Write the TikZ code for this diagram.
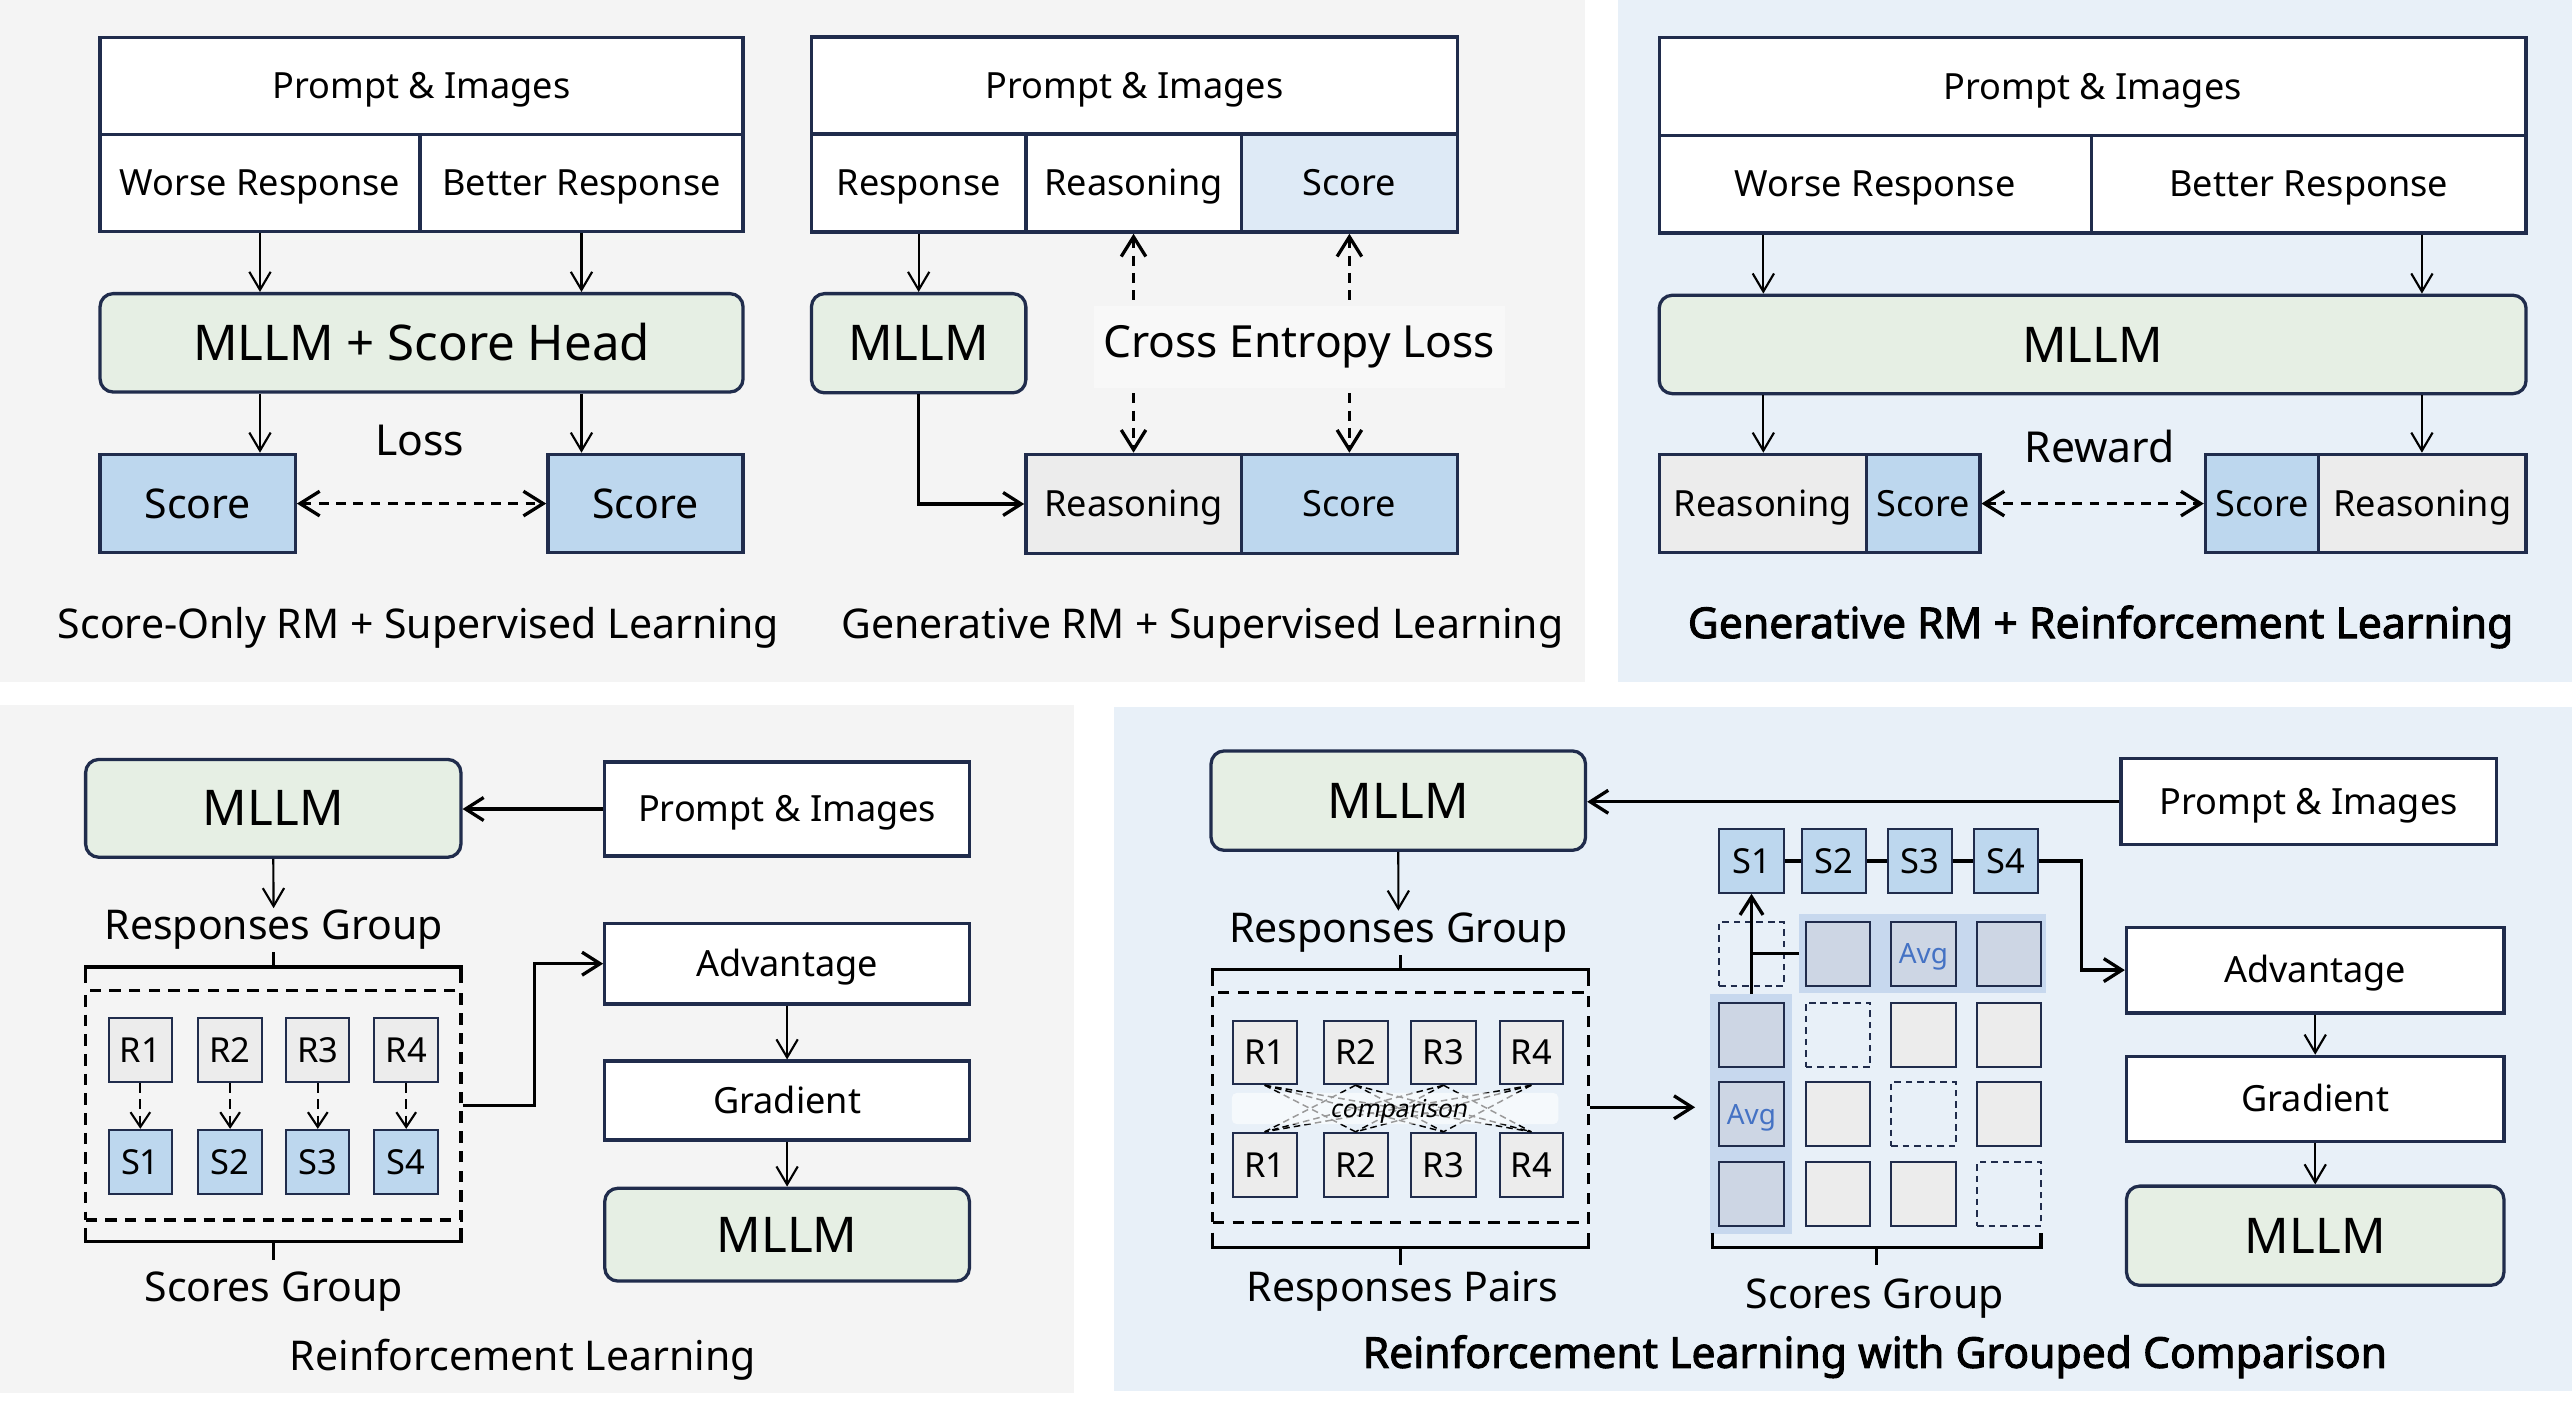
\documentclass[tikz,border=0pt]{standalone}
\usepackage{fontspec}
\setmainfont{Noto Sans}[AutoFakeBold=2.2, AutoFakeSlant=0.2]
\usetikzlibrary{arrows.meta,calc}
\definecolor{navy}{RGB}{32,44,76}
\definecolor{pgray}{RGB}{244,244,244}
\definecolor{lgray}{RGB}{248,248,248}
\definecolor{pblue}{RGB}{232,240,248}
\definecolor{mgreen}{RGB}{230,239,228}
\definecolor{sblue}{RGB}{189,215,238}
\definecolor{lblue}{RGB}{222,234,246}
\definecolor{cgray}{RGB}{236,236,236}
\definecolor{cblue}{RGB}{205,214,228}
\definecolor{bandc}{RGB}{199,216,238}
\definecolor{avgc}{RGB}{68,114,196}
\newcommand{\fsz}[1]{\fontsize{#1pt}{#1pt}\selectfont}
% box from corners: style, name, x1, y1, x2, y2, text
\newcommand{\bxn}[7]{\node[#1, minimum width={(#5)-(#3)}, minimum height={(#6)-(#4)}] (#2) at ({((#3)+(#5))/2},{((#4)+(#6))/2}) {#7};}
\begin{document}
\begin{tikzpicture}[x=1pt,y=-1pt,
  bx/.style={draw=navy, line width=2pt, inner sep=0pt, font=\fsz{22}, text height=15.7pt, text depth=0pt},
  wbox/.style={bx, fill=white},
  mbox/.style={bx, fill=mgreen, rounded corners=8pt, font=\fsz{30}, text height=21.4pt},
  sbox/.style={bx, fill=sblue},
  bigs/.style={sbox, font=\fsz{25}, text height=17.9pt},
  gbox/.style={bx, fill=cgray},
  small/.style={draw=navy, line width=1.2pt, inner sep=0pt, font=\fsz{21}, text height=15pt, text depth=0pt},
  cell/.style={draw=navy, line width=1.2pt, inner sep=0pt, font=\fsz{17}, text height=12.1pt, text depth=0pt, text=avgc},
  dcell/.style={cell, dash pattern=on 4pt off 3pt},
  dbox/.style={draw, line width=2pt, dash pattern=on 7pt off 5pt, inner sep=0pt},
  arr/.style={-{Straight Barb[length=11pt,width=13pt]}, line width=1.3pt},
  tarr/.style={-{Straight Barb[length=11pt,width=14pt]}, line width=2pt},
  darr/.style={{Straight Barb[length=12pt,width=15pt]}-{Straight Barb[length=12pt,width=15pt]}, line width=2pt, dash pattern=on 6pt off 4.5pt},
  txt/.style={font=\fsz{25}, inner sep=1pt, anchor=base},
  btxt/.style={font=\bfseries\fsz{26}, inner sep=1pt, anchor=base},
  brace/.style={line width=2pt},
]
\useasboundingbox (0,0) rectangle (1568,858.4);
% panels
\fill[pgray] (0,0) rectangle (966,416);
\fill[pblue] (986.5,0) rectangle (1568,416);
\fill[pgray] (0,430) rectangle (654.5,849);
\fill[pblue] (679,431) rectangle (1568,848);

% ===== Top-left
\bxn{wbox}{tlP}{61}{23}{453}{82}{Prompt \& Images}
\bxn{wbox}{tlW}{61}{82}{256}{141}{Worse Response}
\bxn{wbox}{tlB}{256}{82}{453}{141}{Better Response}
\bxn{mbox}{tlM}{61}{179}{453}{239}{MLLM + Score Head}
\bxn{bigs}{tlS1}{61}{277}{180}{337}{Score}
\bxn{bigs}{tlS2}{334}{277}{453}{337}{Score}
\draw[arr] (tlW.south) -- (tlW.south |- tlM.north);
\draw[arr] (tlB.south) -- (tlB.south |- tlM.north);
\draw[arr] (tlW.south |- tlM.south) -- (tlW.south |- tlS1.north);
\draw[arr] (tlB.south |- tlM.south) -- (tlB.south |- tlS2.north);
\draw[darr] (tlS1.east) -- (tlS2.west);
\node[txt, font=\fsz{26}] (tlL) at (256,277.5) {Loss};
\node[txt] (tlC) at (255,389) {Score-Only RM + Supervised Learning};

% ===== Top-middle
\bxn{wbox}{mP}{494.7}{22.6}{888.6}{81.7}{Prompt \& Images}
\bxn{wbox}{mR}{494.7}{81.7}{625.4}{141.5}{Response}
\bxn{wbox}{mRe}{625.4}{81.7}{756.7}{141.5}{Reasoning}
\bxn{bx, fill=lblue}{mSc}{756.7}{81.7}{888.6}{141.5}{Score}
\bxn{mbox}{mM}{494.7}{179}{625.4}{239.5}{MLLM}
\bxn{gbox}{mRe2}{625.4}{277}{756.7}{337.5}{Reasoning}
\bxn{sbox}{mSc2}{756.7}{277}{888.6}{337.5}{Score}
\draw[arr] (mR.south) -- (mR.south |- mM.north);
\draw[tarr] (mR.south |- mM.south) |- (mRe2.west);
\draw[darr] (mRe.south) -- (mRe2.north);
\draw[darr] (mSc.south) -- (mSc2.north);
\node[fill=lgray, font=\fsz{27}, text height=19.3pt, text depth=6.7pt, inner ysep=12pt, inner xsep=6pt, anchor=base] (mCE) at (792,217.7) {Cross Entropy Loss};
\node[txt] (mC) at (733,389) {Generative RM + Supervised Learning};

% ===== Top-right
\bxn{wbox}{rP}{1011.5}{23}{1540}{82.5}{Prompt \& Images}
\bxn{wbox}{rW}{1011.5}{82.5}{1275}{142}{Worse Response}
\bxn{wbox}{rB}{1275}{82.5}{1540}{142}{Better Response}
\bxn{mbox}{rM}{1011.5}{180}{1540}{240}{MLLM}
\bxn{gbox}{rR1}{1011.5}{277}{1138}{337}{Reasoning}
\bxn{sbox}{rS1}{1138}{277}{1207}{337}{Score}
\bxn{sbox}{rS2}{1344.5}{277}{1413.5}{337}{Score}
\bxn{gbox}{rR2}{1413.5}{277}{1540}{337}{Reasoning}
\coordinate (ra) at (1075,0);
\coordinate (rb) at (1476.5,0);
\draw[arr] (ra |- rW.south) -- (ra |- rM.north);
\draw[arr] (rb |- rB.south) -- (rb |- rM.north);
\draw[arr] (ra |- rM.south) -- (ra |- rR1.north);
\draw[arr] (rb |- rM.south) -- (rb |- rR2.north);
\draw[darr] (rS1.east) -- (rS2.west);
\node[txt, font=\fsz{26}] (rRw) at (1280,281.7) {Reward};
\node[btxt] (rC) at (1280.6,389) {Generative RM + Reinforcement Learning};

% ===== Bottom-left
\bxn{mbox}{blM}{52.2}{463}{281}{522.6}{MLLM}
\bxn{wbox}{blP}{368.7}{464.6}{591}{521.8}{Prompt \& Images}
\draw[tarr] (blP.west) -- (blP.west -| blM.east);
\node[txt] (blRG) at (166.8,573) {Responses Group};
\draw[arr] (blM.south) -- (blRG.north);
\draw[brace] (52.2,599) -- (52.2,589.6) -- (281,589.6) -- (281,599);
\draw[brace] (166.8,589.6) -- (166.8,580.5);
\bxn{dbox}{blD}{52.2}{604}{281}{743.8}{}
\foreach \i/\xa/\xb in {1/66.3/104.8, 2/121/159.6, 3/174.5/213, 4/228/267.3} {
  \bxn{small, fill=cgray}{blR\i}{\xa}{620.4}{\xb}{659.5}{R\i}
  \bxn{small, fill=sblue}{blS\i}{\xa}{688.8}{\xb}{727.9}{S\i}
  \draw[-{Straight Barb[length=9pt,width=12pt]}, line width=1.3pt, dash pattern=on 6pt off 4pt] (blR\i.south) -- (blS\i.north);
}
\draw[brace] (52.2,748.8) -- (52.2,757) -- (281,757) -- (281,748.8);
\draw[brace] (166.8,757) -- (166.8,768.4);
\node[txt] (blSG) at (166.8,793.3) {Scores Group};
\bxn{wbox}{blA}{368.7}{563}{591}{612}{Advantage}
\bxn{wbox}{blG}{368.7}{646.9}{591}{695}{Gradient}
\bxn{mbox}{blM2}{368.7}{724.4}{591}{781}{MLLM}
\draw[tarr] (blD.east) -- ++(44,0) |- (blA.west);
\draw[arr] (blA) -- (blG);
\draw[arr] (blG) -- (blM2);
\node[txt] (blC) at (318.7,835.4) {Reinforcement Learning};

% ===== Bottom-right
\bxn{mbox}{brM}{738.3}{457.8}{966.6}{518.4}{MLLM}
\bxn{wbox}{brP}{1293}{462.6}{1521.9}{515}{Prompt \& Images}
\draw[tarr] (brP.west) -- (brP.west -| brM.east);
\node[txt] (brRG) at (852.5,574.5) {Responses Group};
\draw[arr] (brM.south) -- (brRG.north);
\draw[brace] (739.4,600.8) -- (739.4,591) -- (968.4,591) -- (968.4,600.8);
\draw[brace] (853.9,591) -- (853.9,582);
\bxn{dbox}{brD}{739.4}{605}{968.4}{745.1}{}
\foreach \i/\xa/\xb in {1/751.4/790.6, 2/806.9/845.9, 3/860.4/899.6, 4/914.2/952.9} {
  \bxn{small, fill=cgray}{brT\i}{\xa}{622.4}{\xb}{661}{R\i}
  \bxn{small, fill=cgray}{brB\i}{\xa}{690.6}{\xb}{729.7}{R\i}
}
\foreach \i in {1,...,4} {
  \foreach \j in {1,...,4} {
    \ifnum\i=\j\else
      \draw[line width=0.9pt, dash pattern=on 4pt off 2.5pt] (brT\i.south) -- (brB\j.north);
    \fi
  }
}
\fill[white, opacity=0.6, rounded corners=3pt] (751,666.3) rectangle (950,685.3);
\node[font=\itshape\fsz{15}, inner sep=0pt, anchor=base] (brCmp) at (852.5,681) {comparison};
\draw[tarr] (brD.east) -- ++(64,0);
% grid
\bxn{fill=bandc, inner sep=0pt}{rowb}{1097}{557.5}{1247.4}{605.3}{}
\bxn{fill=bandc, inner sep=0pt}{colb}{1042.7}{606.1}{1092.7}{752}{}
\bxn{dcell}{g00}{1048}{562}{1087.4}{601}{}
\bxn{cell, fill=cblue}{g01}{1100.8}{562}{1140.2}{601}{}
\bxn{cell, fill=cblue}{g02}{1152.9}{562}{1192.3}{601}{Avg}
\bxn{cell, fill=cblue}{g03}{1205.3}{562}{1244.5}{601}{}
\bxn{cell, fill=cblue}{g10}{1048}{611.2}{1087.4}{650.4}{}
\bxn{dcell}{g11}{1100.8}{611.2}{1140.2}{650.4}{}
\bxn{cell, fill=cgray}{g12}{1152.9}{611.2}{1192.3}{650.4}{}
\bxn{cell, fill=cgray}{g13}{1205.3}{611.2}{1244.5}{650.4}{}
\bxn{cell, fill=cblue}{g20}{1048}{659.6}{1087.4}{698.8}{Avg}
\bxn{cell, fill=cgray}{g21}{1100.8}{659.6}{1140.2}{698.8}{}
\bxn{dcell}{g22}{1152.9}{659.6}{1192.3}{698.8}{}
\bxn{cell, fill=cgray}{g23}{1205.3}{659.6}{1244.5}{698.8}{}
\bxn{cell, fill=cblue}{g30}{1048}{708.3}{1087.4}{747.4}{}
\bxn{cell, fill=cgray}{g31}{1100.8}{708.3}{1140.2}{747.4}{}
\bxn{cell, fill=cgray}{g32}{1152.9}{708.3}{1192.3}{747.4}{}
\bxn{dcell}{g33}{1205.3}{708.3}{1244.5}{747.4}{}
% S boxes
\bxn{small, fill=sblue}{brS1}{1048.2}{505.5}{1087.4}{544.3}{S1}
\bxn{small, fill=sblue}{brS2}{1098.8}{505.5}{1137.6}{544.3}{S2}
\bxn{small, fill=sblue}{brS3}{1151}{505.5}{1190.2}{544.3}{S3}
\bxn{small, fill=sblue}{brS4}{1203.7}{505.5}{1242.5}{544.3}{S4}
\draw[line width=2pt] (brS1.east) -- (brS2.west);
\draw[line width=2pt] (brS2.east) -- (brS3.west);
\draw[line width=2pt] (brS3.east) -- (brS4.west);
\draw[tarr] (colb.north -| brS1.south) -- (brS1.south);
\draw[line width=2pt] (rowb.west) -- (rowb.west -| brS1.south);
\bxn{wbox}{brA}{1296.4}{565.3}{1526.5}{617.5}{Advantage}
\bxn{wbox}{brG}{1296.4}{644}{1526.5}{695.7}{Gradient}
\bxn{mbox}{brM2}{1296.4}{723.1}{1526.5}{783.6}{MLLM}
\draw[tarr] (brS4.east) -- ++(26,0) |- (brA.west);
\draw[arr] (brA) -- (brG);
\draw[arr] (brG) -- (brM2);
\draw[brace] (739.4,751.5) -- (739.4,760.7) -- (968.4,760.7) -- (968.4,751.5);
\draw[brace] (853.9,760.7) -- (853.9,771);
\draw[brace] (1043.9,751.5) -- (1043.9,760.7) -- (1244.3,760.7) -- (1244.3,751.5);
\draw[brace] (1144,760.7) -- (1144,771);
\node[txt] (brRP) at (855,793.4) {Responses Pairs};
\node[txt] (brSG) at (1143,797.6) {Scores Group};
\node[btxt] (brC) at (1143,833.9) {Reinforcement Learning with Grouped Comparison};
\end{tikzpicture}
\end{document}
